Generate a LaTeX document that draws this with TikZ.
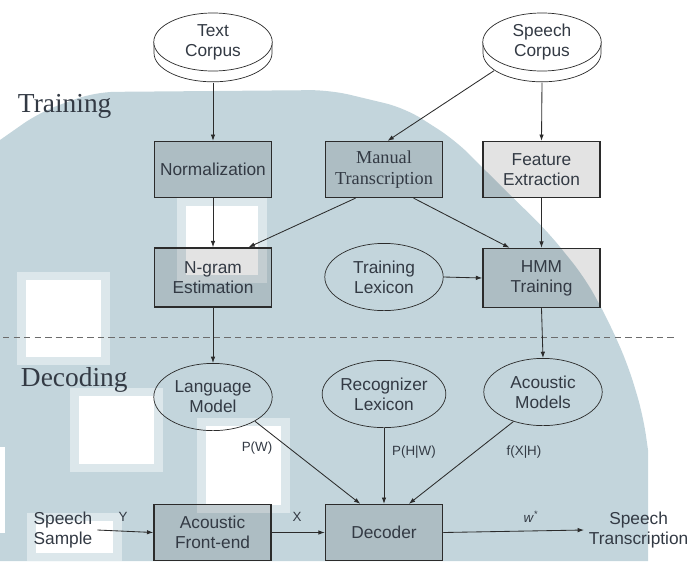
\documentclass[tikz,border=0pt]{standalone}
\usepackage{fontspec}
\setmainfont{Liberation Sans}
\newfontfamily\serifl{Liberation Serif}
\usepackage{xcolor}
\usepackage{tikz}
\usetikzlibrary{calc,shapes.geometric,arrows.meta}
\definecolor{ink}{HTML}{333A44}
\definecolor{edge}{HTML}{2B2B2B}
\definecolor{wm}{HTML}{C3D5DC}
\definecolor{wmedge}{HTML}{DCE7EB}
\tikzset{
  box/.style={draw=edge, line width=0.9pt, fill=black, fill opacity=0.11, text opacity=1, text=ink,
    minimum width=2.93cm, minimum height=1.4cm, inner sep=1pt, align=center, font=\fontsize{12.3}{14.2}\selectfont},
  oval/.style={ellipse, draw=edge, line width=0.5pt, text=ink, minimum width=2.96cm, minimum height=1.68cm,
    inner sep=0pt, align=center, font=\fontsize{12.3}{14.2}\selectfont},
  corpus/.style={oval, fill=white, minimum height=1.45cm},
  rim/.style={draw=edge, line width=0.5pt, fill=white},
  flow/.style={draw=edge, line width=0.6pt, -{Latex[length=4.5pt,width=3.2pt]}},
  lbl/.style={text=ink, font=\fontsize{9.5}{11}\selectfont},
  txt/.style={text=ink, align=center, font=\fontsize{12.3}{14.2}\selectfont},
  phase/.style={text=ink, anchor=base west, font=\serifl\fontsize{19.5}{22}\selectfont},
  sep/.style={draw=gray!85!black, line width=0.6pt, dash pattern=on 4.5pt off 3pt}
}

\begin{document}
\begin{tikzpicture}[x=0.025cm, y=-0.025cm]
\useasboundingbox (0,0) rectangle (692,561);
% watermark behind the figure
\fill[wm] (0,561) -- (0,140) [rounded corners=14pt] -- (40,112) -- (95,92) -- (330,90) -- (405,108)
  -- (455,140) -- (500,185) -- (548,232) -- (585,278) -- (608,320) -- (628,365) -- (643,415)
  [sharp corners] -- (648,450) -- (648,561) -- cycle;
\foreach \a/\b/\c/\d in {177/198/267/283, 17/272/110/365, 70/388/163/472, 197/418/290/513, 27/513/122/561}{
  \fill[wmedge] (\a,\b) rectangle (\c,\d);
  \fill[white] (\a+9,\b+8) rectangle (\c-9,\d-8);
}
\fill[white] (0,447) rectangle (5,533);

% corpora (disks)
\filldraw[rim] (154,42) -- (154,53) arc[start angle=180, end angle=360, x radius=1.475cm, y radius=0.72cm] -- (272,42) -- cycle;
\node[corpus] (tcorp) at (213,42) {Text\\Corpus};
\filldraw[rim] (483,42) -- (483,53) arc[start angle=180, end angle=360, x radius=1.475cm, y radius=0.72cm] -- (601,42) -- cycle;
\node[corpus] (scorp) at (542,42) {Speech\\Corpus};

% training
\node[phase] (train) at (13,112) {Training};
\node[box] (norm) at (213,169.5) {Normalization};
\node[box, font=\serifl\fontsize{13}{14.5}\selectfont] (manual) at (384,169.5) {Manual\\Transcription};
\node[box] (feat) at (541.5,169.5) {Feature\\Extraction};
\node[box, minimum height=1.48cm] (ngram) at (213,277.5) {N-gram\\Estimation};
\node[oval] (tlex) at (384,277) {Training\\Lexicon};
\node[box, minimum height=1.48cm] (hmm) at (541.5,278) {HMM\\Training};

\draw[flow] ([yshift=-0.28cm]tcorp.south) -- (norm.north);
\draw[flow] ([yshift=-0.28cm]scorp.-160) -- ($(manual.north west)!0.53!(manual.north east)$);
\draw[flow] ([yshift=-0.28cm]scorp.south) -- (feat.north);
\draw[flow] (norm.south) -- (ngram.north);
\draw[flow] ($(manual.south west)!0.26!(manual.south east)$) -- ($(ngram.north west)!0.8!(ngram.north east)$);
\draw[flow] ($(manual.south west)!0.75!(manual.south east)$) -- ($(hmm.north west)!0.23!(hmm.north east)$);
\draw[flow] (feat.south) -- (hmm.north);
\draw[flow] (tlex.east) -- (hmm.west);

% training / decoding split
\coordinate (sepL) at (3,337);
\coordinate (sepR) at (674,337);
\draw[sep] (sepL) -- (sepR);

% decoding
\node[phase] (decode) at (16,386) {Decoding};
\node[oval] (lm) at (213,397) {Language\\Model};
\node[oval] (rlex) at (384,394) {Recognizer\\Lexicon};
\node[oval] (am) at (543,392) {Acoustic\\Models};
\node[box] (afe) at (212.5,532.5) {Acoustic\\Front-end};
\node[box] (dec) at (384,532.5) {Decoder};
\node[txt, align=left] (sample) at (63,530) {Speech\\Sample};
\node[txt, anchor=west] (trans) at (584,530) {Speech\\Transcription};

\draw[flow] (ngram.south) -- (lm.north);
\draw[flow] (hmm.south) -- (am.north);
\draw[flow] (lm.-30) -- ($(dec.north west)!0.3!(dec.north east)$);
\draw[flow] (rlex.south) -- (dec.north);
\draw[flow] (am.-135) -- ($(dec.north west)!0.71!(dec.north east)$);
\draw[flow] (sample.east) -- (afe.west);
\draw[flow] (afe.east) -- (dec.west);
\draw[flow] (dec.east) -- (trans.west);

% signal labels
\node[lbl] (ylab) at (123,517) {Y};
\node[lbl] (xlab) at (297,517) {X};
\node[lbl] (wlab) at (531,517) {\textit{w}\textsuperscript{*}};
\node[lbl] (pw) at (257,448) {P(W)};
\node[lbl] (phw) at (414,452) {P(H|W)};
\node[lbl] (fxh) at (524,452) {f(X|H)};
\end{tikzpicture}
\end{document}
